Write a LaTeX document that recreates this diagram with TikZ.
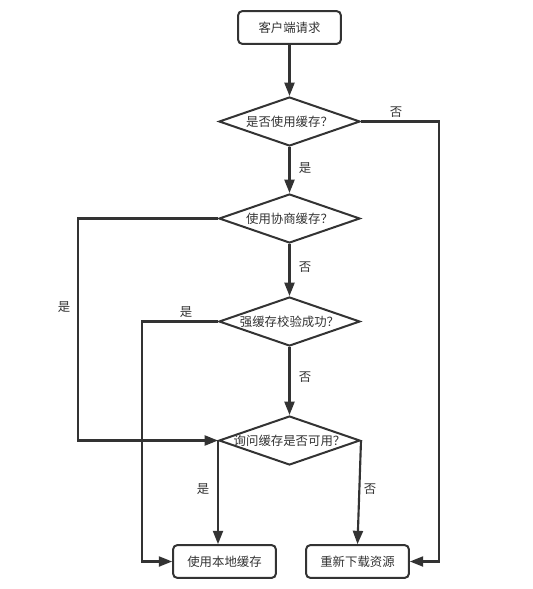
\documentclass[tikz,border=0pt]{standalone}
\usepackage{fontspec}
\newfontfamily\cjk{Noto Sans CJK SC}
\usetikzlibrary{shapes.geometric,arrows.meta,calc}
\definecolor{ink}{HTML}{333333}
\begin{document}
\begin{tikzpicture}[x=0.75pt,y=-0.75pt,
  every node/.style={font=\cjk\fontsize{9.3}{11}\selectfont, text=ink},
  box/.style={draw=ink, line width=1.5pt, rounded corners=3pt, rectangle,
    minimum width=77pt, minimum height=24.5pt, inner sep=0pt},
  decision/.style={draw=ink, line width=1.5pt, diamond, inner sep=0pt,
    minimum width=105.75pt, minimum height=36.75pt},
  arr/.style={draw=ink, line width=1.6pt, -{Triangle[length=10pt,width=7.5pt]}},
  lbl/.style={inner sep=1pt}
]
\useasboundingbox (0,0) rectangle (532,589);
\node[box] (start) at (289.5,27.5) {客户端请求};
\node[decision, label={center:是否使用缓存？}] (q1) at (289.5,121.5) {};
\node[decision, label={center:使用协商缓存？}] (q2) at (289.5,218.5) {};
\node[decision, label={center:强缓存校验成功？}] (q3) at (289.5,321.5) {};
\node[decision, label={center:询问缓存是否可用？}] (q4) at (289.5,440.5) {};
\node[box] (uc) at (224.5,561.5) {使用本地缓存};
\node[box] (dl) at (357.5,561.5) {重新下载资源};

\draw[arr] (start.south) -- (q1.north);
\draw[arr] (q1.south) -- (q2.north);
\draw[arr] (q2.south) -- (q3.north);
\draw[arr] (q3.south) -- (q4.north);
\draw[arr] (q1.east) -- ++(78,0) |- (dl.east);
\draw[arr] (q2.west) -- ++(-140,0) |- (q4.west);
\draw[arr] (q3.west) -- ++(-76,0) |- (uc.west);
\draw[arr] (q4.west) -- (q4.west |- uc.north);
\draw[arr] (q4.east) -- (dl.north);

\node[lbl] (l1) at (396,112) {否};
\node[lbl] (l2) at (305,168) {是};
\node[lbl] (l3) at (64,307) {是};
\node[lbl] (l4) at (305,267) {否};
\node[lbl] (l5) at (186,312) {是};
\node[lbl] (l6) at (305,377) {否};
\node[lbl] (l7) at (203,489) {是};
\node[lbl] (l8) at (370,489) {否};
\end{tikzpicture}
\end{document}
